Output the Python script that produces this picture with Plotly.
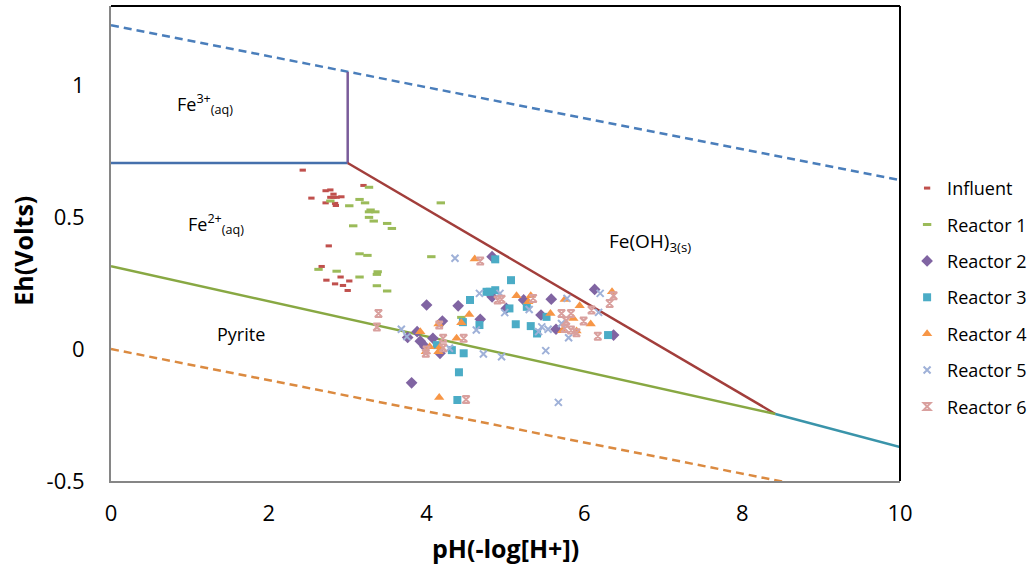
import plotly.graph_objects as go

# Measured (pH, Eh) points for each sampling location
influent_ph = [2.43, 3.20, 2.54, 2.72, 2.78, 2.82, 2.78, 2.82, 2.86, 2.92, 2.72, 2.84, 2.85,
               2.76, 2.67, 2.73, 2.91, 3.02, 2.84, 2.94, 3.00]
influent_eh = [0.678, 0.620, 0.572, 0.600, 0.603, 0.587, 0.575, 0.575, 0.575, 0.577, 0.554, 0.552, 0.544,
               0.391, 0.313, 0.261, 0.273, 0.258, 0.247, 0.241, 0.222]

r1_ph = [3.27, 2.78, 3.15, 3.22, 3.02, 3.29, 3.35, 3.27, 3.27, 3.33, 3.50, 3.56, 3.07,
         3.15, 3.25, 2.63, 2.86, 3.15, 3.38, 3.37, 3.37, 3.50, 4.18, 4.06, 4.44]
r1_eh = [0.613, 0.561, 0.567, 0.554, 0.543, 0.527, 0.520, 0.520, 0.499, 0.485, 0.476, 0.457, 0.467,
         0.361, 0.355, 0.302, 0.295, 0.273, 0.293, 0.283, 0.240, 0.220, 0.554, 0.350, 0.120]

r2_ph = [4.00, 4.40, 4.20, 3.88, 3.76, 3.92, 4.08, 3.98, 4.17, 3.81, 4.68, 4.83, 4.83,
         5.23, 5.58, 5.45, 5.64, 6.13, 6.37, 5.01]
r2_eh = [0.167, 0.164, 0.106, 0.066, 0.044, 0.030, 0.041, 0.009, -0.016, -0.128, 0.113, 0.350, 0.198,
         0.186, 0.189, 0.129, 0.075, 0.226, 0.053, 0.154]

r3_ph = [4.87, 4.55, 4.80, 4.87, 4.76, 5.07, 4.46, 4.67, 4.32, 4.47, 4.13, 4.41, 4.39,
         5.05, 5.27, 5.13, 5.32, 5.40, 5.52, 6.30]
r3_eh = [0.340, 0.186, 0.217, 0.223, 0.217, 0.261, 0.102, 0.091, -0.004, -0.016, 0.015, -0.088, -0.193,
         0.154, 0.160, 0.094, 0.087, 0.059, 0.122, 0.053]

r4_ph = [4.61, 4.54, 4.44, 4.15, 3.92, 4.38, 4.04, 4.15, 3.99, 4.16, 5.14, 5.32, 5.29,
         5.57, 5.75, 5.94, 5.86, 5.72, 5.90, 6.08, 6.35, 4.17]
r4_eh = [0.341, 0.131, 0.100, 0.095, 0.066, 0.041, 0.009, -0.010, -0.010, -0.184, 0.202, 0.202, 0.179,
         0.135, 0.188, 0.164, 0.116, 0.069, 0.068, 0.095, 0.217, 0.009]

r5_ph = [4.36, 4.67, 3.68, 3.75, 4.63, 4.72, 4.29, 4.95, 4.93, 4.99, 5.30, 5.46, 5.54,
         5.42, 5.80, 5.78, 6.18, 6.20, 5.51, 5.67, 5.71]
r5_eh = [0.344, 0.211, 0.075, 0.047, 0.072, -0.019, 0.003, -0.029, 0.211, 0.138, 0.150, 0.084, 0.075,
         0.066, 0.043, 0.192, 0.139, 0.211, -0.006, -0.202, 0.097]

r6_ph = [4.68, 3.39, 3.37, 4.21, 4.47, 4.00, 3.99, 4.16, 4.21, 4.50, 4.90, 4.95, 5.35,
         5.71, 5.83, 5.99, 5.77, 5.75, 5.83, 5.90, 6.17, 6.32, 6.37, 6.09]
r6_eh = [0.334, 0.135, 0.084, 0.041, 0.041, -0.004, -0.016, 0.091, 0.005, -0.191, 0.186, 0.189, 0.192,
         0.135, 0.135, 0.106, 0.107, 0.078, 0.072, 0.062, 0.049, 0.173, 0.202, 0.148]

# Stability-field boundaries (pH, Eh)
water_upper_ph = [0, 10]
water_upper_eh = [1.227, 0.640]
water_lower_ph = [0, 10]
water_lower_eh = [0.0, -0.59]
fe3_fe2_ph = [0, 3]
fe3_fe2_eh = [0.705, 0.705]
fe3_feoh_ph = [3, 3]
fe3_feoh_eh = [0.705, 1.05]
fe2_feoh_ph = [3, 8.42]
fe2_feoh_eh = [0.705, -0.246]
fe2_pyrite_ph = [0, 8.42]
fe2_pyrite_eh = [0.314, -0.246]
feoh_pyrite_ph = [8.42, 10]
feoh_pyrite_eh = [-0.246, -0.371]

FONT = "Open Sans"

fig = go.Figure()

boundaries = [
    (water_upper_ph, water_upper_eh, "#4A7EBB", "8px,5px"),
    (water_lower_ph, water_lower_eh, "#DB8A40", "8px,5px"),
    (fe3_fe2_ph, fe3_fe2_eh, "#4570AC", "solid"),
    (fe3_feoh_ph, fe3_feoh_eh, "#7A5C9A", "solid"),
    (fe2_feoh_ph, fe2_feoh_eh, "#A23E3B", "solid"),
    (fe2_pyrite_ph, fe2_pyrite_eh, "#88A843", "solid"),
    (feoh_pyrite_ph, feoh_pyrite_eh, "#3A94AA", "solid"),
]
for xs, ys, col, dash in boundaries:
    fig.add_trace(go.Scatter(x=xs, y=ys, mode="lines", showlegend=False, hoverinfo="skip",
                             line=dict(color=col, width=2.5, dash=dash)))

series = [
    ("Influent", influent_ph, influent_eh, "line-ew", 4.5, "#C0504D", 3),
    ("Reactor 1", r1_ph, r1_eh, "line-ew", 6, "#9BBB59", 3),
    ("Reactor 2", r2_ph, r2_eh, "diamond", 9, "#8064A2", 0),
    ("Reactor 3", r3_ph, r3_eh, "square", 8, "#4BACC6", 0),
    ("Reactor 4", r4_ph, r4_eh, "triangle-up", 9, "#F79646", 0),
    ("Reactor 5", r5_ph, r5_eh, "x-thin-open", 7, "#9FB1D8", 2),
    ("Reactor 6", r6_ph, r6_eh, "hourglass-open", 7, "#D9A09E", 2),
]
for i, (name, xs, ys, sym, size, col, lw) in enumerate(series):
    marker = dict(symbol=sym, size=size, color=col)
    if lw:
        marker["line"] = dict(color=col, width=lw)
    else:
        marker["line"] = dict(width=0)
    fig.add_trace(go.Scatter(x=xs, y=ys, mode="markers", name=name, marker=marker,
                             legendgroup=f"g{i}"))

# Stability-field labels
labels = [
    (1.19, 0.93, "Fe<sup>3+</sup><sub>(aq)</sub>", 18),
    (1.33, 0.475, "Fe<sup>2+</sup><sub>(aq)</sub>", 18),
    (6.83, 0.405, "Fe(OH)<sub>3(s)</sub>", 19),
    (1.65, 0.057, "Pyrite", 18),
]
for x, y, t, fs in labels:
    fig.add_annotation(x=x, y=y, text=t, showarrow=False, xref="x", yref="y",
                       font=dict(family=FONT, size=fs, color="#000000"))

# Axis titles
fig.add_annotation(x=-0.112, y=0.484, xref="paper", yref="paper", text="<b>Eh(Volts)</b>",
                   xanchor="center", yanchor="middle",
                   textangle=-90, showarrow=False, font=dict(family=FONT, size=25, color="#000000"))
fig.add_annotation(x=0.5, y=-0.141, xref="paper", yref="paper", text="<b>pH(-log[H+])</b>",
                   xanchor="center", yanchor="middle",
                   showarrow=False, font=dict(family=FONT, size=25, color="#000000"))

# Black frame on top and right
fig.add_shape(type="line", xref="paper", yref="paper", x0=0, x1=1, y0=1, y1=1,
              line=dict(color="#000000", width=2))
fig.add_shape(type="line", xref="paper", yref="paper", x0=1, x1=1, y0=0, y1=1,
              line=dict(color="#000000", width=2))

fig.update_layout(
    width=1034, height=575,
    margin=dict(l=111, r=134, t=6, b=94, autoexpand=False),
    paper_bgcolor="white", plot_bgcolor="white",
    font=dict(family=FONT, color="#000000"),
    showlegend=True,
    legend=dict(x=1.009, y=0.655, xanchor="left", yanchor="top",
                font=dict(family=FONT, size=18, color="#000000"),
                tracegroupgap=10, traceorder="grouped", itemsizing="trace",
                bgcolor="rgba(0,0,0,0)"),
    xaxis=dict(range=[0, 10], tickvals=[0, 2, 4, 6, 8, 10], showgrid=False, zeroline=False,
               showline=True, linecolor="#868686", linewidth=2,
               ticks="outside", ticklen=12, tickcolor="rgba(0,0,0,0)",
               tickfont=dict(family=FONT, size=22, color="#000000")),
    yaxis=dict(range=[-0.5, 1.3], tickvals=[-0.5, 0, 0.5, 1], ticktext=["-0.5", "0", "0.5", "1"],
               showgrid=False, zeroline=False,
               showline=True, linecolor="#868686", linewidth=2,
               ticks="outside", ticklen=20, tickcolor="rgba(0,0,0,0)",
               tickfont=dict(family=FONT, size=22, color="#000000")),
)

fig.write_html("out.html")
